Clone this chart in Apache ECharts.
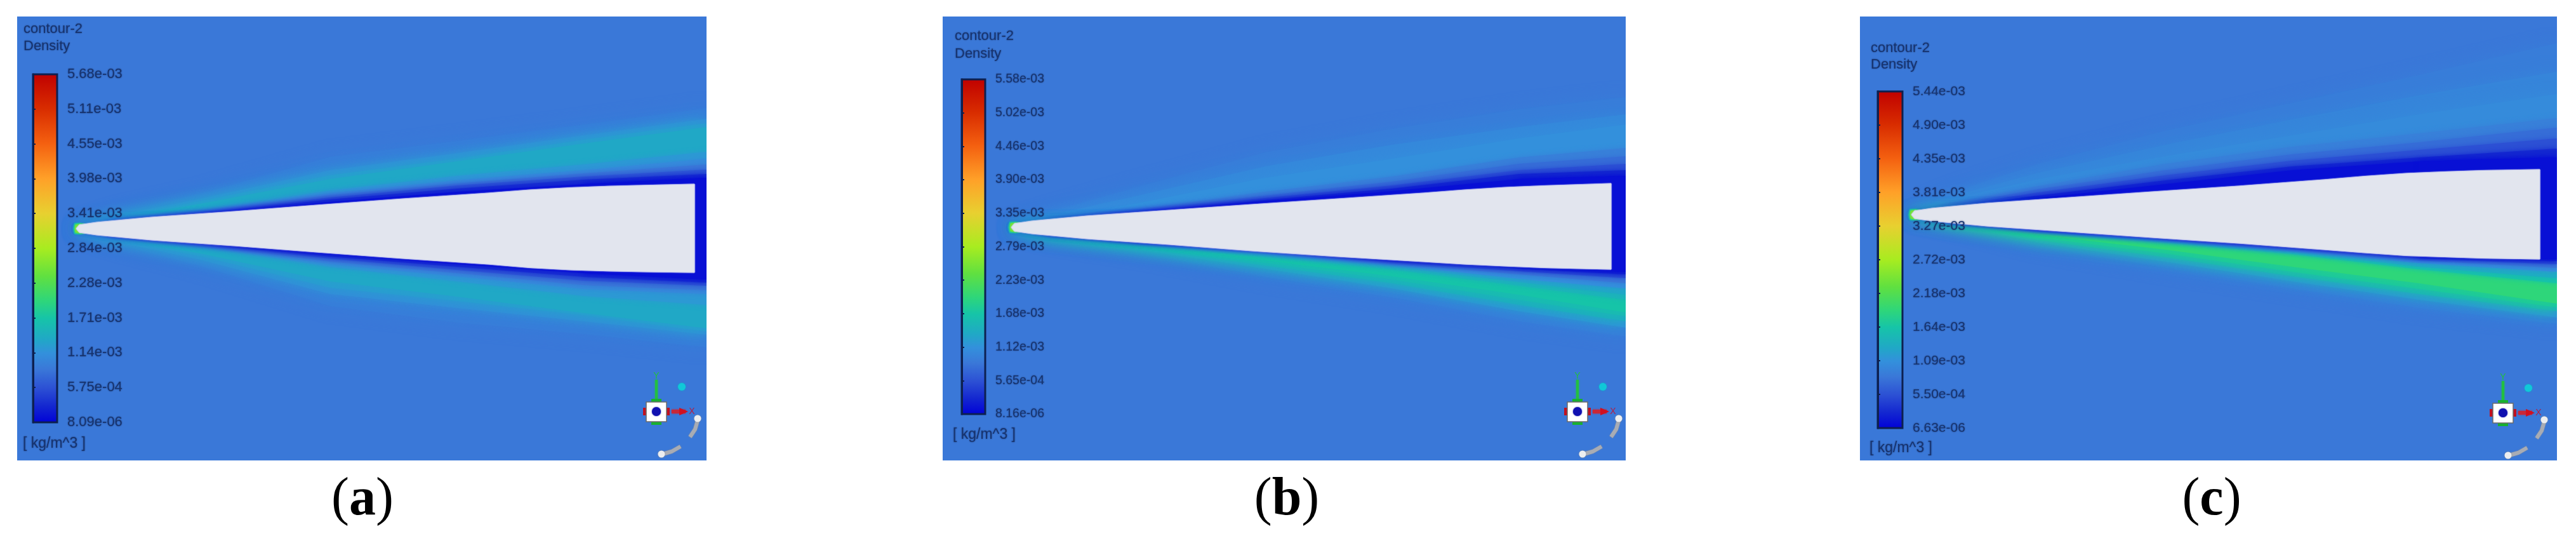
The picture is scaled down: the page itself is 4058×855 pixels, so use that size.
<!DOCTYPE html>
<html><head><meta charset="utf-8">
<style>html,body{margin:0;padding:0;background:#fff}#c{width:4058px;height:855px}</style>
<script src="https://cdn.jsdelivr.net/npm/echarts@6/dist/echarts.min.js"></script>
</head><body><div id="c"></div>
<script>
// ---------- colour scale (fraction of range -> colour)
const scaleFractions = [0,.05,.10,.155,.20,.24,.30,.35,.42,.50,.60,.70,.80,.90,1];
const scaleColors = ['#0000d8','#1428d0','#2c50d4','#3a78d8','#3390dc','#20a8c6','#16c4a8','#2ed67a','#60e040','#a8ec20','#e8d030','#ffa028','#f46010','#d82c00','#c00000'];

// ---------- tick labels of the three legend bars (bottom to top)
const ticksA = ['8.09e-06','5.75e-04','1.14e-03','1.71e-03','2.28e-03','2.84e-03','3.41e-03','3.98e-03','4.55e-03','5.11e-03','5.68e-03'];
const ticksB = ['8.16e-06','5.65e-04','1.12e-03','1.68e-03','2.23e-03','2.79e-03','3.35e-03','3.90e-03','4.46e-03','5.02e-03','5.58e-03'];
const ticksC = ['6.63e-06','5.50e-04','1.09e-03','1.64e-03','2.18e-03','2.72e-03','3.27e-03','3.81e-03','4.35e-03','4.90e-03','5.44e-03'];

// ---------- body outline: distance from nose, half thickness above / below
const bodyXA = [0,5,33,120,250,380,516,650,715,780,840,900,974];
const bodyUpA = [0,6,10,18,27,37,47,56,61,64.5,66.8,68.3,70];
const bodyLoA = [0,6,10,18,27,37,47,56,61.5,65,66.8,68,69];
const bodyXB = [0,5,33,120,250,380,516,650,715,780,840,900,945];
const bodyUpB = [0,6,10,18,27,36,45,54,59,63,65.5,67.5,69];
const bodyLoB = [0,6,10,18,27,37,46,54,58,61,63.5,65,66];
const bodyXC = [0,5,33,120,250,380,516,650,715,780,840,900,990];
const bodyUpC = [0,6,10,18,27,36,45,55,60.5,65,67.5,69.5,71];
const bodyLoC = [0,6,10,18,27,36,45,55,60,64.5,66.5,68.5,70];

// ---------- density contours: stations along the body, then [level fraction, offsets at each station]
const stationsA = [0,60,200,400,600,800,993];
const upperA = [
 [.165,4,24,56,113,138,164,190],[.19,3,20,48,92,119,147,173],[.215,3,17,44,84,110,140,166],[.24,2,15,40,78,106,134,160],
 [.215,1.5,12,28,60,83,101,121],[.19,1.5,12,27,56,76,92,110],[.155,1,12,26,53,71,87,101],[.11,1,11.5,25,49,68,82,93],[.06,1,11.5,24,46,63,77,86],[.02,.5,11,23,42,58,70,80]];
const lowerA = [
 [.165,4,24,60,122,148,166,187],[.19,3,20,50,103,125,146,167],[.215,3,17,44,93,114,136,162],[.24,2,15,40,83,107,133,157],
 [.215,1.5,12,28,60,83,106,120],[.19,1.5,12,27,56,75,95,103],[.155,1,12,26,52,70,89,97],[.11,1,11.5,25,47,65,82,90],[.06,1,11.5,24,44,60,76,85],[.02,.5,11,23,41,56,70,80]];

const stationsB = [0,60,200,400,600,800,968];
const upperB = [
 [.165,5,24,64,118,155,186,205],[.185,4,19,50,96,130,158,178],[.20,3,15,38,78,108,140,162],
 [.17,2,12.5,28,56,80,110,125],[.14,1.5,12,26,50,72,100,112],[.10,1,11.5,25,46,66,90,100],[.05,1,11,24,43,61,84,90],[.02,.5,11,23,41,57,76,81]];
const lowerB = [
 [.165,4,18,40,78,110,148,172],[.20,3,15,35,65,96,132,158],[.24,2.5,14,32,60,88,122,148],[.27,2,13,30,56,82,114,140],[.30,2,12.5,28,52,77,106,134],
 [.27,1.5,12,26,46,66,92,114],[.24,1.5,12,25,43,62,86,106],[.20,1,11.5,24,41,59,81,96],[.155,1,11.5,24,39,57,74,88],[.10,1,11,23,37,55,69,80],[.05,.5,11,23,36,53,65,74],[.02,.5,10.5,22,35,51,62,70]];

const stationsC = [0,60,200,400,600,800,1017];
const upperC = [
 [.165,8,34,80,132,176,220,270],[.18,6,28,66,110,150,188,225],[.19,5,24,56,92,125,158,190],
 [.17,3,18,45,80,107,128,152],[.14,2.5,15,40,70,95,114,137],[.10,2,13,35,62,85,102,120],[.05,1.5,12,30,54,76,90,104],[.02,1,11.5,26,48,70,84,90]];
const lowerC = [
 [.165,4,16,50,84,116,147,172],[.20,3,14,44,74,105,134,162],[.25,2.5,13.5,40,67,97,125,152],[.30,2,13,36,61,90,117,146],[.35,2,13,32,55,82,108,140],
 [.30,1.5,12.5,27,44,62,86,108],[.25,1.5,12,26,42,59,82,100],[.20,1,12,25.5,40,57,76,90],[.155,1,11.5,25,39,55,72,84],[.10,1,11,24,38,53,69,78],[.05,.5,11,23.5,37,51,67,73],[.02,.5,10.5,23,36,50,66,70]];

// nose halo levels (outer, inner)
const haloLevels = [.30,.44];

// ---------- page layout
const panels = [
 {L:27,R:1113,T:26,B:725,tipX:120,tipY:360,stations:stationsA,up:upperA,lo:lowerA,bx:bodyXA,bu:bodyUpA,bl:bodyLoA,ticks:ticksA,
  bar:[52,90,117,665],fs:22,lm:16,head:[37,48,75],unit:[36,700],cap:'a',capX:571,tri:[1034,648]},
 {L:1485,R:2561,T:26,B:725,tipX:1593,tipY:358,stations:stationsB,up:upperB,lo:lowerB,bx:bodyXB,bu:bodyUpB,bl:bodyLoB,ticks:ticksB,
  bar:[1515,1552,125,652],fs:19.5,lm:16,head:[1504,59,87],unit:[1501,686],cap:'b',capX:2027,tri:[2485,648]},
 {L:2930,R:4028,T:26,B:725,tipX:3011,tipY:338,stations:stationsC,up:upperC,lo:lowerC,bx:bodyXC,bu:bodyUpC,bl:bodyLoC,ticks:ticksC,
  bar:[2958,2997,144,674],fs:21,lm:16,head:[2947,78,104],unit:[2945,707],cap:'c',capX:3484,tri:[3943,650]}
];
const INK = '#17336e';
const FONT = '"Liberation Sans",Arial,sans-serif';
const SOFT = {textShadowBlur:2.5,textShadowColor:'rgba(23,51,110,.8)'};

function hex(c){return [1,3,5].map(i=>parseInt(c.substr(i,2),16));}
function colorAt(f){
  for(let i=1;i<scaleFractions.length;i++){ if(f<=scaleFractions[i]){
    const t=(f-scaleFractions[i-1])/(scaleFractions[i]-scaleFractions[i-1]);
    const a=hex(scaleColors[i-1]),b=hex(scaleColors[i]);
    return 'rgb('+a.map((v,k)=>Math.round(v+(b[k]-v)*t)).join(',')+')';
  }}
  return scaleColors[scaleColors.length-1];
}

const grid=[],xAxis=[],yAxis=[],series=[],title=[],graphic=[];
panels.forEach((p,i)=>{
  const fi=2*i, gi=2*i+1;
  // field panel
  grid.push({left:p.L,top:p.T,width:p.R-p.L,height:p.B-p.T,show:true,backgroundColor:'#3a78d8',borderWidth:0});
  xAxis.push({type:'value',gridIndex:fi,min:p.L-p.tipX,max:p.R-p.tipX,show:false});
  yAxis.push({type:'value',gridIndex:fi,min:p.tipY-p.B,max:p.tipY-p.T,show:false});
  const layers=[], n=p.stations.length;
  [[p.up,1],[p.lo,-1]].forEach(([edges,s])=>{
    edges.forEach((e,k)=>{
      const falling = edges.slice(0,k).some(q=>q[0]>e[0]);
      layers.push({level:e[0],blur:falling?8:24,pts:[[p.stations[0],0]].concat(p.stations.map((x,j)=>[x,s*e[j+1]])).concat([[p.stations[n-1],0]])});
    });
  });
  // wake behind the base: the two lowest contours joined over the centreline
  const eu=p.up[p.up.length-1], el=p.lo[p.lo.length-1];
  layers.push({level:eu[0],blur:8,pts:[[p.stations[n-2],eu[n-1]],[p.stations[n-1],eu[n]],[p.stations[n-1],-el[n]],[p.stations[n-2],-el[n-1]]]});
  series.push({type:'custom',coordinateSystem:'cartesian2d',xAxisIndex:fi,yAxisIndex:fi,clip:true,silent:true,z:2,
    data:layers.map((l,k)=>[k,l.level]),
    renderItem(params,api){
      const l=layers[params.dataIndex],c=colorAt(l.level);
      return {type:'polygon',shape:{points:l.pts.map(q=>api.coord(q))},style:{fill:c,shadowBlur:l.blur,shadowColor:c}};
    }});
  // nose halo and solid body
  const outline=p.bx.map((x,j)=>[x,p.bu[j]]).concat(p.bx.map((x,j)=>[x,-p.bl[j]]).reverse());
  series.push({type:'custom',coordinateSystem:'cartesian2d',xAxisIndex:fi,yAxisIndex:fi,clip:true,silent:true,z:3,
    data:[[0,0],[0,1],[0,2]],
    renderItem(params,api){
      const d=params.dataIndex;
      if(d<2){
        const g=d===0?4.5:2.2;
        const pts=[[-g,0],[-g*.6,4+g],[6,6+g*.6],[14,6+g*.3],[14,-6-g*.3],[6,-6-g*.6],[-g*.6,-4-g]];
        const c=colorAt(haloLevels[d]);
        return {type:'polygon',shape:{points:pts.map(q=>api.coord(q))},style:{fill:c,shadowBlur:3,shadowColor:c}};
      }
      return {type:'polygon',shape:{points:outline.map(q=>api.coord(q))},style:{fill:'#e2e5ee',stroke:'#ccd0f0',lineWidth:1,shadowBlur:1.5,shadowColor:'#dfe2f2'}};
    }});
  // legend bar
  const [bl,br,bt,bb]=p.bar;
  grid.push({left:bl,top:bt,width:br-bl,height:bb-bt,show:false});
  xAxis.push({type:'value',gridIndex:gi,min:0,max:1,show:false});
  yAxis.push({type:'category',gridIndex:gi,data:p.ticks,boundaryGap:false,position:'right',z:12,
    axisLine:{show:true,lineStyle:{color:'#0d2050',width:3}},
    axisTick:{show:true,length:4,alignWithLabel:true,lineStyle:{color:'#0d2050',width:2}},
    axisLabel:Object.assign({show:true,interval:0,margin:p.lm,color:INK,fontFamily:FONT,fontSize:p.fs,align:'left'},SOFT),
    splitLine:{show:false}});
  series.push({type:'custom',coordinateSystem:'cartesian2d',xAxisIndex:gi,yAxisIndex:gi,silent:true,z:11,
    data:[[0,0]],
    renderItem(params,api){
      const a=api.coord([0,0]),b=api.coord([1,p.ticks.length-1]);
      return {type:'rect',shape:{x:a[0],y:b[1],width:b[0]-a[0],height:a[1]-b[1]},
        style:{fill:new echarts.graphic.LinearGradient(0,1,0,0,scaleFractions.map((f,k)=>({offset:f,color:scaleColors[k]}))),stroke:'#0d2050',lineWidth:3}};
    }});
  // texts
  const txt=(t,x,cy,fs)=>title.push({text:t,left:x,top:cy-fs*0.58,padding:0,z:12,textStyle:Object.assign({fontFamily:FONT,fontWeight:'normal',fontSize:fs,color:INK},SOFT)});
  txt('contour-2',p.head[0],p.head[1],22);
  txt('Density',p.head[0],p.head[2],22);
  txt('[ kg/m^3 ]',p.unit[0],p.unit[1],23);
  title.push({text:'{p|(}{b|'+p.cap+'}{p|)}',left:p.capX,top:746,padding:0,textAlign:'center',
    textStyle:{rich:{p:{fontFamily:'"Liberation Serif",serif',fontSize:84,color:'#000',fontWeight:'normal'},b:{fontFamily:'"Liberation Serif",serif',fontSize:84,color:'#000',fontWeight:'bold'}}}});
  // orientation triad
  graphic.push({type:'group',x:p.tri[0],y:p.tri[1],silent:true,z:20,children:[
    {type:'rect',shape:{x:-2,y:-50,width:4,height:38},style:{fill:'#22c040',shadowBlur:3,shadowColor:'#22c040'}},
    {type:'rect',shape:{x:-8,y:-20,width:16,height:6},style:{fill:'#18b030'}},
    {type:'rect',shape:{x:-8,y:14,width:16,height:7},style:{fill:'#18b030'}},
    {type:'text',style:{text:'Y',x:0,y:-56,fill:'#22c040',font:'14px '+FONT,textAlign:'center',textVerticalAlign:'middle'}},
    {type:'rect',shape:{x:-21,y:-6,width:6,height:12},style:{fill:'#c01020'}},
    {type:'rect',shape:{x:15,y:-6,width:6,height:12},style:{fill:'#c01020'}},
    {type:'rect',shape:{x:24,y:-3,width:22,height:6},style:{fill:'#c82838',shadowBlur:3,shadowColor:'#c82838'}},
    {type:'polygon',shape:{points:[[36,-6],[50,0],[36,6]]},style:{fill:'#d01020'}},
    {type:'text',style:{text:'X',x:56,y:0,fill:'#b02048',font:'14px '+FONT,textAlign:'center',textVerticalAlign:'middle'}},
    {type:'rect',shape:{x:-16,y:-15,width:32,height:31},style:{fill:'#fff',stroke:'#6a6a6a',lineWidth:1.5}},
    {type:'circle',shape:{cx:0,cy:0,r:7},style:{fill:'#1010b0',shadowBlur:2,shadowColor:'#1010b0'}},
    {type:'circle',shape:{cx:40,cy:-39,r:6},style:{fill:'#10c8d8',shadowBlur:3,shadowColor:'#10a8c8'}},
    {type:'polyline',shape:{points:[[65,14],[61,28],[53,40]]},style:{stroke:'#a8acb4',fill:null,lineWidth:6,shadowBlur:2,shadowColor:'#8a8e98'}},
    {type:'circle',shape:{cx:65,cy:11,r:5.5},style:{fill:'#eceef0',shadowBlur:2,shadowColor:'#8a8e98'}},
    {type:'polyline',shape:{points:[[38,55],[24,63],[10,67]]},style:{stroke:'#a8acb4',fill:null,lineWidth:6,shadowBlur:2,shadowColor:'#8a8e98'}},
    {type:'circle',shape:{cx:8,cy:67,r:5.5},style:{fill:'#eceef0',shadowBlur:2,shadowColor:'#8a8e98'}}
  ]});
});

const chart=echarts.init(document.getElementById('c'),null,{renderer:'canvas'});
chart.setOption({animation:false,backgroundColor:'#fff',tooltip:{show:false},grid,xAxis,yAxis,series,title,graphic});
</script></body></html>
